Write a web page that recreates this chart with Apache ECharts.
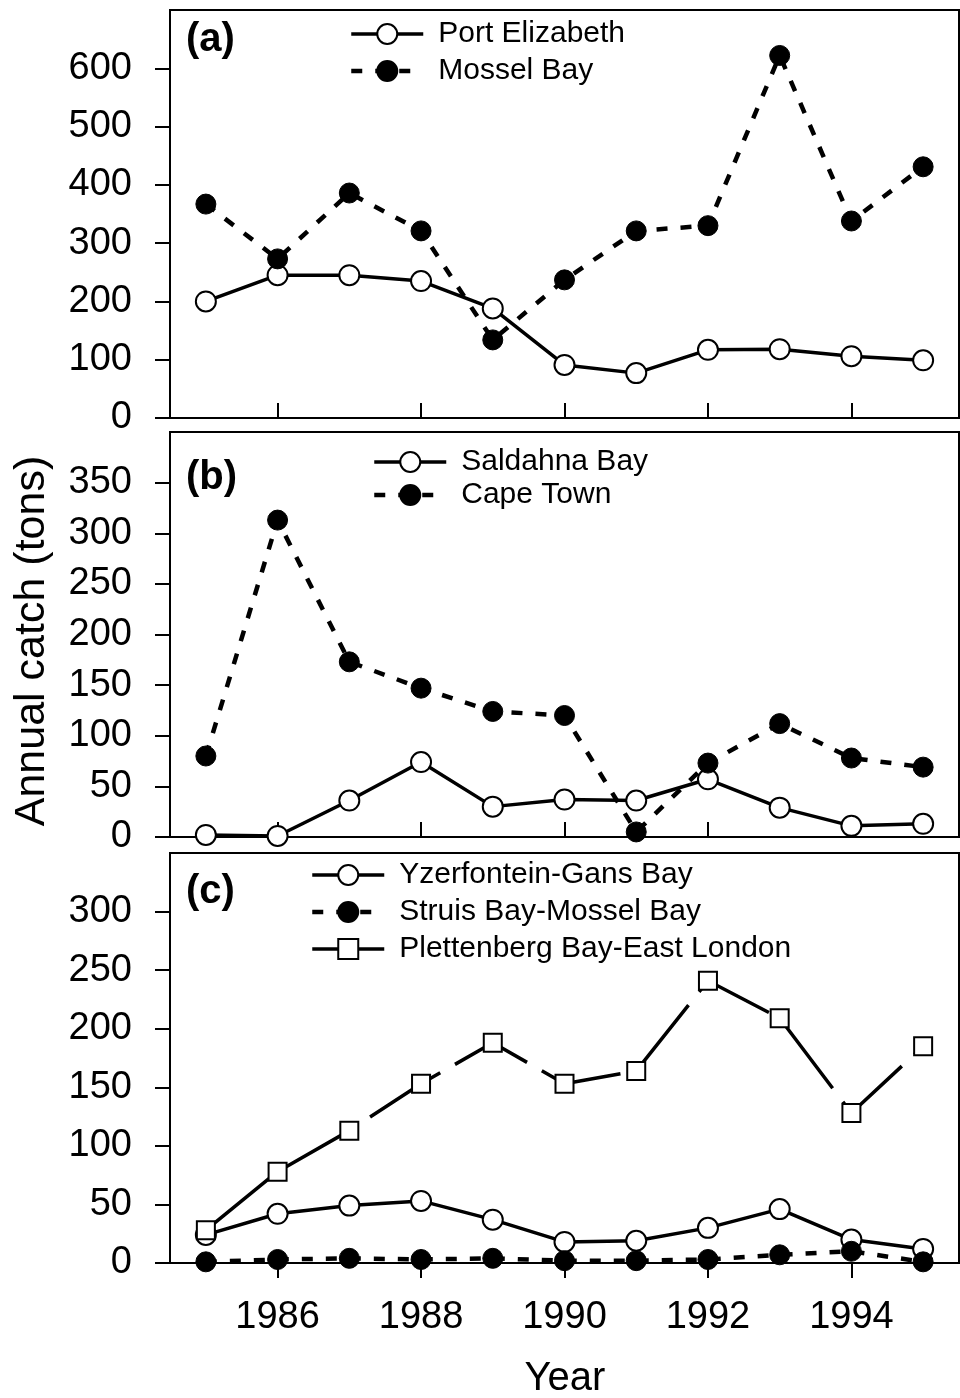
<!DOCTYPE html>
<html>
<head>
<meta charset="utf-8">
<script src="https://cdn.jsdelivr.net/npm/echarts@6/dist/echarts.min.js"></script>
<style>
html,body{margin:0;padding:0;background:#fff}
#chart{width:960px;height:1398px}
</style>
</head>
<body>
<div id="chart"></div>
<script>
// annual catch (tons)
var years = [1985,1986,1987,1988,1989,1990,1991,1992,1993,1994,1995];
var portElizabeth = [200,245,245,235,188,91,77,117,118,106,99];
var mosselBay = [367,273,386,321,134,237,321,330,622,338,431];
var saldahnaBay = [2,1,36,74,30,37,36,57,29,11,13];
var capeTown = [80,313,173,147,124,120,5,73,112,78,69];
var yzerfontein = [24,42,49,53,37,18,19,30,46,20,12];
var struisBay = [1,3,4,3,4,2,2,3,7,10,1];
var plettenberg = [28,78,113,153,188,153,164,241,209,128,185];

var yearTicks = [1986,1988,1990,1992,1994];
var ticksA = [0,100,200,300,400,500,600];
var ticksB = [0,50,100,150,200,250,300,350];
var ticksC = [0,50,100,150,200,250,300];

var FONT = 'Liberation Sans, Arial, sans-serif';
var SOLID = {color:'#000', width:3.5, type:'solid'};
var SHORT_DASH = {color:'#000', width:4.5, type:[11,13]};
var LONG_DASH = {color:'#000', width:3.5, type:[83,17]};

function pairs(vals){
	return years.map(function(y,i){ return [y, vals[i]]; });
}

function xAxisFor(idx, showLabels){
	return {
		type:'value', gridIndex:idx, min:1984.5, max:1995.5,
		splitLine:{show:false},
		axisLine:{show:true, onZero:false, lineStyle:{color:'#000', width:2}},
		axisTick:{show:true, inside:!showLabels, length:15, customValues:yearTicks, lineStyle:{color:'#000', width:2}},
		axisLabel:{show:showLabels, customValues:yearTicks, margin:36, fontSize:38, fontFamily:FONT, color:'#000',
			formatter:function(v){ return String(v); }}
	};
}

function yAxisFor(idx, max, ticks){
	return {
		type:'value', gridIndex:idx, min:0, max:max,
		splitLine:{show:false},
		axisLine:{show:true, lineStyle:{color:'#000', width:2}},
		axisTick:{show:true, length:15, customValues:ticks, lineStyle:{color:'#000', width:2}},
		axisLabel:{customValues:ticks, margin:38, fontSize:38, fontFamily:FONT, color:'#000'}
	};
}

function openCircle(name, vals, idx){
	return {
		name:name, type:'line', xAxisIndex:idx, yAxisIndex:idx, data:pairs(vals), clip:false,
		symbol:'circle', symbolSize:20,
		itemStyle:{color:'#fff', borderColor:'#000', borderWidth:2},
		lineStyle:SOLID
	};
}
function filledCircle(name, vals, idx){
	return {
		name:name, type:'line', xAxisIndex:idx, yAxisIndex:idx, data:pairs(vals), clip:false,
		symbol:'circle', symbolSize:20,
		itemStyle:{color:'#000', borderColor:'#000', borderWidth:1},
		lineStyle:SHORT_DASH
	};
}
function openSquare(name, vals, idx){
	return {
		name:name, type:'line', xAxisIndex:idx, yAxisIndex:idx, data:pairs(vals), clip:false,
		symbol:'rect', symbolSize:18,
		itemStyle:{color:'#fff', borderColor:'#000', borderWidth:2},
		lineStyle:LONG_DASH
	};
}

function legendFor(left, top, gap, items){
	return {
		orient:'vertical', left:left, top:top, itemGap:gap, padding:0,
		itemWidth:72, itemHeight:25,
		textStyle:{fontSize:30, fontFamily:FONT, color:'#000', padding:[0,0,0,10]},
		data:items
	};
}
function item(name, ls){
	return {name:name, lineStyle:{color:'#000', width:ls.width, type:ls.type}};
}

var myChart = echarts.init(document.getElementById('chart'));
var option = {
	animation:false,
	backgroundColor:'#fff',
	grid:[
		{left:170, width:789, top:10, height:408, show:true, borderColor:'#000', borderWidth:2},
		{left:170, width:789, top:432, height:405, show:true, borderColor:'#000', borderWidth:2},
		{left:170, width:789, top:853, height:410, show:true, borderColor:'#000', borderWidth:2}
	],
	xAxis:[xAxisFor(0,false), xAxisFor(1,false), xAxisFor(2,true)],
	yAxis:[yAxisFor(0,700,ticksA), yAxisFor(1,400,ticksB), yAxisFor(2,350,ticksC)],
	legend:[
		legendFor(349, 19, 7, [item('Port Elizabeth',SOLID), item('Mossel Bay',SHORT_DASH)]),
		legendFor(372, 447, 3, [item('Saldahna Bay',SOLID), item('Cape Town',SHORT_DASH)]),
		legendFor(310, 860, 7, [item('Yzerfontein-Gans Bay',SOLID), item('Struis Bay-Mossel Bay',SHORT_DASH), item('Plettenberg Bay-East London',SOLID)])
	],
	graphic:[
		{type:'text', left:186, top:20, style:{text:'(a)', fontSize:40, fontWeight:'bold', fontFamily:FONT, fill:'#000'}},
		{type:'text', left:186, top:458, style:{text:'(b)', fontSize:40, fontWeight:'bold', fontFamily:FONT, fill:'#000'}},
		{type:'text', left:186, top:872, style:{text:'(c)', fontSize:40, fontWeight:'bold', fontFamily:FONT, fill:'#000'}},
		{type:'text', x:32, y:641, rotation:Math.PI/2,
			style:{text:'Annual catch (tons)', fontSize:43, fontFamily:FONT, fill:'#000', align:'center', verticalAlign:'middle'}},
		{type:'text', x:565, y:1379,
			style:{text:'Year', fontSize:40, fontFamily:FONT, fill:'#000', align:'center', verticalAlign:'middle'}}
	],
	series:[
		openCircle('Port Elizabeth', portElizabeth, 0),
		filledCircle('Mossel Bay', mosselBay, 0),
		openCircle('Saldahna Bay', saldahnaBay, 1),
		filledCircle('Cape Town', capeTown, 1),
		openCircle('Yzerfontein-Gans Bay', yzerfontein, 2),
		filledCircle('Struis Bay-Mossel Bay', struisBay, 2),
		openSquare('Plettenberg Bay-East London', plettenberg, 2)
	]
};
myChart.setOption(option);
</script>
</body>
</html>
